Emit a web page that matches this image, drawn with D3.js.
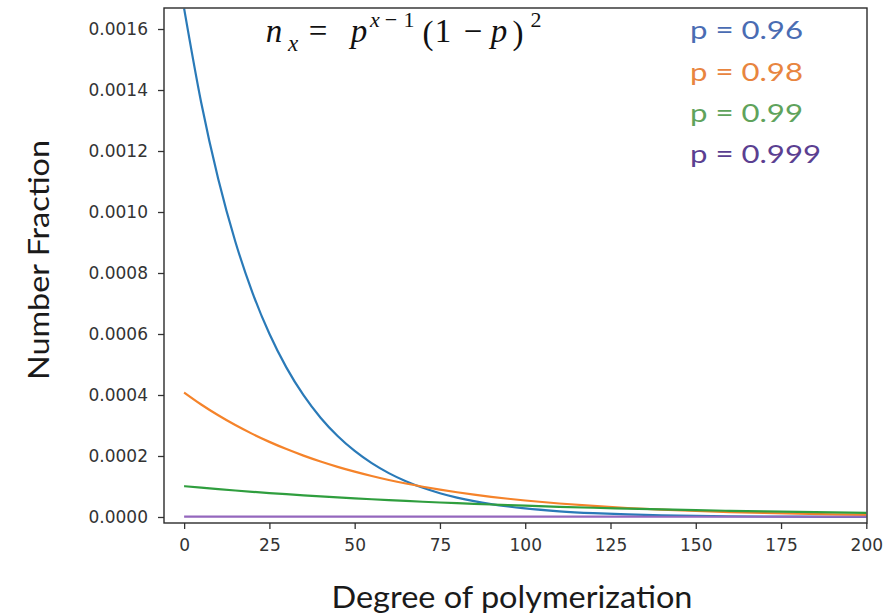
<!DOCTYPE html>
<html>
<head>
<meta charset="utf-8">
<script src="https://cdn.jsdelivr.net/npm/d3@7"></script>
<style>
  body { margin: 0; background: #fff; }
  svg { display: block; }
</style>
</head>
<body>
<svg width="888" height="615"></svg>
<script>
var xs = [0, 5, 10, 15, 20, 25, 30, 35, 40, 45, 50, 55, 60, 65, 70, 75, 80, 85, 90, 95, 100,
          110, 120, 130, 140, 150, 160, 170, 180, 190, 200];

var p096 = [0.0016667, 0.0013590, 0.0011081, 0.00090344, 0.00073664, 0.00060062, 0.00048974,
            0.00039931, 0.00032559, 0.00026547, 0.00021648, 0.00017648, 0.00014390, 0.00011733,
            0.00009568, 0.00007801, 0.00006360, 0.00005186, 0.00004229, 0.00003448, 0.00002811,
            0.00001869, 0.00001243, 0.00000826, 0.00000549, 0.00000365, 0.00000243, 0.00000161,
            0.00000107, 0.00000071, 0.00000047];

var p098 = [0.00040816, 0.00036895, 0.00033350, 0.00030146, 0.00027249, 0.00024631, 0.00022264,
            0.00020125, 0.00018192, 0.00016444, 0.00014864, 0.00013436, 0.00012145, 0.00010978,
            0.00009923, 0.00008970, 0.00008108, 0.00007329, 0.00006625, 0.00005988, 0.00005413,
            0.00004422, 0.00003614, 0.00002952, 0.00002412, 0.00001971, 0.00001610, 0.00001316,
            0.00001075, 0.00000878, 0.00000718];

var p099 = [0.00010101, 0.00009606, 0.00009135, 0.00008687, 0.00008262, 0.00007857, 0.00007472,
            0.00007106, 0.00006757, 0.00006426, 0.00006111, 0.00005812, 0.00005527, 0.00005256,
            0.00004998, 0.00004753, 0.00004520, 0.00004299, 0.00004088, 0.00003888, 0.00003697,
            0.00003344, 0.00003024, 0.00002735, 0.00002473, 0.00002237, 0.00002023, 0.00001829,
            0.00001655, 0.00001496, 0.00001353];

var p0999 = [0.000001001, 0.000000996, 0.000000991, 0.000000986, 0.000000981, 0.000000976, 0.000000971,
             0.000000967, 0.000000962, 0.000000957, 0.000000952, 0.000000947, 0.000000943, 0.000000938,
             0.000000933, 0.000000929, 0.000000924, 0.000000919, 0.000000915, 0.000000910, 0.000000906,
             0.000000897, 0.000000888, 0.000000879, 0.000000870, 0.000000862, 0.000000853, 0.000000845,
             0.000000836, 0.000000828, 0.000000820];

var seriesNames = ["p = 0.96", "p = 0.98", "p = 0.99", "p = 0.999"];
var seriesValues = [p096, p098, p099, p0999];
var lineColors = ["#2a7ab8", "#f5832a", "#2f9e3e", "#9467bd"];
var labelColors = ["#4a6cb3", "#e8853f", "#5fa35c", "#5b3f91"];

var xTicks = [0, 25, 50, 75, 100, 125, 150, 175, 200];
var yTicks = [0, 0.0002, 0.0004, 0.0006, 0.0008, 0.0010, 0.0012, 0.0014, 0.0016];

var svg = d3.select("svg"),
    width = +svg.attr("width"),
    height = +svg.attr("height");

// plot box (note: "top" is reserved on window, so use pl/pr/pt/pb)
var pl = 164, pr = 867, pt = 8, pb = 523;

var x = d3.scaleLinear().domain([-5.9, 200.2]).range([pl, pr]);
var y = d3.scaleLinear().domain([-0.0000197, 0.0016689]).range([pb, pt]);

svg.append("defs").append("clipPath").attr("id", "plotclip")
  .append("rect")
    .attr("x", pl).attr("y", pt)
    .attr("width", pr - pl).attr("height", pb - pt);

// curves
var line = d3.line()
    .x(function(d) { return x(d[0]); })
    .y(function(d) { return y(d[1]); })
    .curve(d3.curveMonotoneX);

var curves = svg.append("g").attr("clip-path", "url(#plotclip)");
seriesValues.forEach(function(vals, i) {
  var pts = xs.map(function(v, j) { return [v, vals[j]]; });
  curves.append("path")
      .datum(pts)
      .attr("fill", "none")
      .attr("stroke", lineColors[i])
      .attr("stroke-width", 2.2)
      .attr("d", line);
});

// axes
var xAxis = svg.append("g")
    .attr("transform", "translate(0," + pb + ")")
    .call(d3.axisBottom(x).tickValues(xTicks).tickSize(6).tickSizeOuter(0).tickPadding(10)
      .tickFormat(d3.format("d")));

var yAxis = svg.append("g")
    .attr("transform", "translate(" + pl + ",0)")
    .call(d3.axisLeft(y).tickValues(yTicks).tickSize(6).tickSizeOuter(0).tickPadding(10)
      .tickFormat(d3.format(".4f")));

[xAxis, yAxis].forEach(function(a) {
  a.select(".domain").remove();
  a.selectAll(".tick line").attr("stroke", "#333").attr("stroke-width", 1.3);
  a.selectAll(".tick text")
    .attr("fill", "#333")
    .style("font-family", "DejaVu Sans")
    .style("font-size", "17px");
});

// frame
svg.append("rect")
    .attr("x", pl).attr("y", pt)
    .attr("width", pr - pl).attr("height", pb - pt)
    .attr("fill", "none")
    .attr("stroke", "#2b2b2b")
    .attr("stroke-width", 1.4);

// axis titles
svg.append("text")
    .attr("x", 512).attr("y", 608)
    .attr("text-anchor", "middle")
    .attr("textLength", 361).attr("lengthAdjust", "spacingAndGlyphs")
    .style("font-family", "Lato")
    .style("font-size", "31px")
    .attr("fill", "#1a1a1a")
    .text("Degree of polymerization");

svg.append("text")
    .attr("transform", "translate(49,260) rotate(-90)")
    .attr("text-anchor", "middle")
    .attr("textLength", 240).attr("lengthAdjust", "spacingAndGlyphs")
    .style("font-family", "Lato")
    .style("font-size", "29px")
    .attr("fill", "#1a1a1a")
    .text("Number Fraction");

// legend text
var legendY = [39, 81, 122, 163];
var legendW = [113, 113, 113, 131];
seriesNames.forEach(function(name, i) {
  svg.append("text")
      .attr("x", 690).attr("y", legendY[i])
      .attr("textLength", legendW[i]).attr("lengthAdjust", "spacingAndGlyphs")
      .style("font-family", "Lato")
      .style("font-size", "25px")
      .attr("fill", labelColors[i])
      .text(name);
});

// equation n_x = p^(x-1) (1 - p)^2, glyph by glyph: [centre x, text, size, italic, baseline]
var eqGlyphs = [
  [274, "n", 33, true, 42],
  [293, "x", 23, true, 51],
  [318, "=", 33, false, 42],
  [359, "p", 33, true, 42],
  [375, "x", 22, true, 27],
  [391, "\u2212", 22, false, 27],
  [409, "1", 22, false, 27],
  [428, "(", 33, false, 44],
  [443, "1", 33, false, 42],
  [473, "\u2212", 33, false, 42],
  [499, "p", 33, true, 42],
  [518, ")", 33, false, 44],
  [536, "2", 22, false, 27]
];
svg.append("g").selectAll("text")
  .data(eqGlyphs)
  .enter().append("text")
    .attr("x", function(d) { return d[0]; })
    .attr("y", function(d) { return d[4]; })
    .attr("text-anchor", "middle")
    .style("font-family", "Liberation Serif")
    .style("font-size", function(d) { return d[2] + "px"; })
    .style("font-style", function(d) { return d[3] ? "italic" : "normal"; })
    .attr("fill", "#111")
    .text(function(d) { return d[1]; });
</script>
</body>
</html>
